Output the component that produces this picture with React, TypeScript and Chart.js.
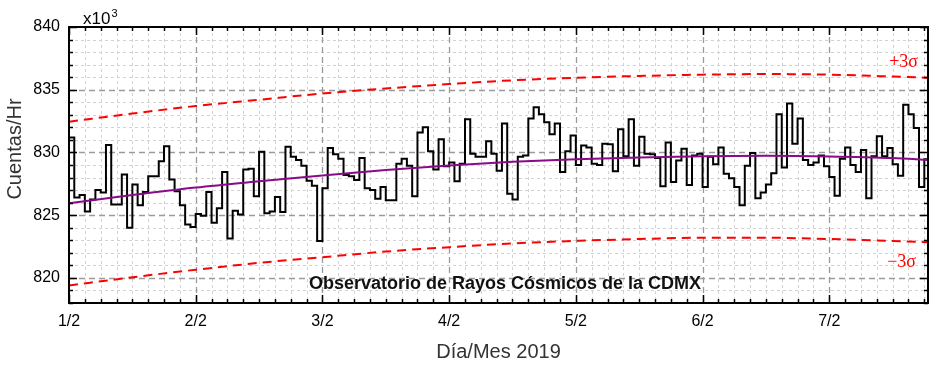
import React, { useEffect, useRef } from "react";
import { Chart, registerables } from "chart.js";

Chart.register(...registerables);

// Day labels placed every 24 hours starting at hour 0
const dayLabels = ["1/2", "2/2", "3/2", "4/2", "5/2", "6/2", "7/2"];

// Hourly counts (x10^3 counts/hr), one value per hour from 1/2 00:00
const hourlyCounts = [
  // 1/2
  831.2, 826.4, 826.6, 825.3, 826.25, 827.0, 826.8, 830.6, 825.85, 825.85, 828.25, 824.0,
  827.45, 825.8, 826.85, 828.1, 828.1, 829.3, 830.5, 827.85, 826.9, 825.8, 824.25, 824.05,
  // 2/2
  825.1, 824.95, 826.85, 824.4, 825.55, 828.45, 823.15, 825.35, 825.05, 828.65, 828.7, 826.5,
  830.05, 825.15, 825.3, 826.45, 825.25, 830.45, 829.65, 829.4, 828.95, 827.75, 827.35, 822.95,
  // 3/2
  827.15, 830.35, 829.85, 829.5, 828.2, 828.1, 827.8, 829.55, 827.15, 827.0, 826.3, 827.25,
  826.2, 826.2, 829.1, 829.5, 828.95, 826.5, 831.6, 832.0, 830.1, 828.65, 831.05, 828.9,
  // 4/2
  829.2, 827.7, 829.1, 832.65, 829.9, 829.65, 829.65, 830.9, 829.9, 828.55, 832.3, 826.7,
  826.25, 829.65, 829.75, 832.7, 833.6, 833.05, 832.4, 831.45, 832.3, 828.45, 830.1, 831.35,
  // 5/2
  829.0, 830.55, 830.4, 829.1, 829.0, 830.7, 830.65, 828.5, 831.85, 829.7, 832.65, 828.95,
  831.25, 829.9, 829.85, 829.55, 827.3, 830.8, 827.65, 829.35, 830.3, 827.4, 829.75, 829.9,
  // 6/2
  827.25, 829.65, 829.05, 830.4, 828.3, 827.95, 827.25, 825.8, 828.95, 829.95, 826.35, 826.8,
  827.45, 828.35, 833.05, 828.8, 833.9, 830.7, 832.7, 829.4, 829.0, 829.2, 829.75, 828.9,
  // 7/2
  828.05, 826.55, 829.5, 830.4, 829.0, 828.45, 830.2, 826.35, 829.7, 831.3, 829.7, 830.35,
  829.05, 828.15, 833.8, 833.05, 831.95, 827.25, 829.45,
];

// Smooth trend and ±3σ bands, read at 12-hour steps
const trendHours = [0, 12, 24, 36, 48, 60, 72, 84, 96, 108, 120, 132, 144, 156, 162.7];
const trendValues = [825.95, 826.6, 827.2, 827.7, 828.17, 828.6, 828.96, 829.25, 829.45, 829.6, 829.7, 829.73, 829.68, 829.55, 829.4];
const upperValues = [832.45, 833.1, 833.7, 834.2, 834.7, 835.1, 835.45, 835.75, 835.95, 836.1, 836.2, 836.25, 836.2, 836.05, 835.95];
const lowerValues = [819.4, 820.05, 820.65, 821.2, 821.65, 822.1, 822.45, 822.75, 822.95, 823.1, 823.2, 823.2, 823.1, 822.95, 822.85];

const X_MIN = 0;
const X_MAX = 162.7;
const Y_MIN = 818;
const Y_MAX = 840;

const SANS = "'Liberation Sans', Arial, sans-serif";
const SERIF = "'Liberation Serif', 'Times New Roman', serif";

const decorPlugin = {
  id: "decor",
  beforeDatasetsDraw(chart: any) {
    const { ctx, chartArea: a, scales } = chart;
    const x = scales.x;
    const y = scales.y;
    ctx.save();
    // minor grid
    ctx.lineWidth = 1;
    ctx.strokeStyle = "#d2d2d2";
    ctx.setLineDash([3, 3]);
    for (let h = 3; h < X_MAX; h += 3) {
      if (h % 24 === 0) continue;
      const px = Math.round(x.getPixelForValue(h)) + 0.5;
      ctx.beginPath();
      ctx.moveTo(px, a.top);
      ctx.lineTo(px, a.bottom);
      ctx.stroke();
    }
    for (let v = Y_MIN + 1; v < Y_MAX; v++) {
      if (v % 5 === 0) continue;
      const py = Math.round(y.getPixelForValue(v)) + 0.5;
      ctx.beginPath();
      ctx.moveTo(a.left, py);
      ctx.lineTo(a.right, py);
      ctx.stroke();
    }
    // major grid
    ctx.lineWidth = 1.3;
    ctx.strokeStyle = "#9a9a9a";
    ctx.setLineDash([6, 4]);
    for (let h = 24; h < X_MAX; h += 24) {
      const px = Math.round(x.getPixelForValue(h)) + 0.5;
      ctx.beginPath();
      ctx.moveTo(px, a.top);
      ctx.lineTo(px, a.bottom);
      ctx.stroke();
    }
    for (let v = 820; v < Y_MAX; v += 5) {
      const py = Math.round(y.getPixelForValue(v)) + 0.5;
      ctx.beginPath();
      ctx.moveTo(a.left, py);
      ctx.lineTo(a.right, py);
      ctx.stroke();
    }
    ctx.restore();
  },
  afterDraw(chart: any) {
    const { ctx, chartArea: a, scales } = chart;
    const x = scales.x;
    const y = scales.y;
    ctx.save();
    ctx.setLineDash([]);
    ctx.strokeStyle = "#000";
    ctx.lineWidth = 1.5;
    // inward ticks
    for (let h = 0; h <= X_MAX; h += 3) {
      const px = Math.round(x.getPixelForValue(h)) + 0.5;
      const len = h % 24 === 0 ? 8 : 4;
      ctx.beginPath();
      ctx.moveTo(px, a.bottom);
      ctx.lineTo(px, a.bottom - len);
      ctx.moveTo(px, a.top);
      ctx.lineTo(px, a.top + len);
      ctx.stroke();
    }
    for (let v = Y_MIN; v <= Y_MAX; v++) {
      const py = Math.round(y.getPixelForValue(v)) + 0.5;
      const len = v % 5 === 0 ? 8 : 4;
      ctx.beginPath();
      ctx.moveTo(a.left, py);
      ctx.lineTo(a.left + len, py);
      ctx.moveTo(a.right, py);
      ctx.lineTo(a.right - len, py);
      ctx.stroke();
    }
    // frame
    ctx.lineWidth = 2;
    ctx.strokeRect(a.left, a.top, a.right - a.left, a.bottom - a.top);

    // multiplier
    ctx.fillStyle = "#000";
    ctx.textBaseline = "alphabetic";
    ctx.textAlign = "left";
    ctx.font = `17px ${SANS}`;
    ctx.fillText("x10", 83, 24);
    const w = ctx.measureText("x10").width;
    ctx.font = `11px ${SANS}`;
    ctx.fillText("3", 83 + w + 1, 17);

    // axis titles
    ctx.fillStyle = "#333";
    ctx.font = `20px ${SANS}`;
    ctx.textAlign = "center";
    ctx.textBaseline = "middle";
    ctx.fillText("Día/Mes 2019", (a.left + a.right) / 2, 352);
    ctx.save();
    ctx.translate(15, 149);
    ctx.rotate(-Math.PI / 2);
    ctx.fillText("Cuentas/Hr", 0, 0);
    ctx.restore();

    // annotation
    ctx.fillStyle = "#111";
    ctx.font = `bold 18px ${SANS}`;
    ctx.fillText("Observatorio de Rayos Cósmicos de la CDMX", 505, 284);

    // sigma labels
    ctx.fillStyle = "#ff0000";
    ctx.font = `18px ${SERIF}`;
    ctx.textAlign = "right";
    ctx.fillText("+3σ", 918, 62);
    ctx.fillText("\u22123σ", 916, 262);
    ctx.restore();
  },
};

export default function App() {
  const ref = useRef<HTMLCanvasElement>(null);
  useEffect(() => {
    const stepData = hourlyCounts.map((v, i) => ({ x: i, y: v }));
    stepData.push({ x: hourlyCounts.length, y: hourlyCounts[hourlyCounts.length - 1] });
    const toPts = (vals: number[]) => vals.map((v, i) => ({ x: trendHours[i], y: v }));
    const chart = new Chart(ref.current as HTMLCanvasElement, {
      type: "line",
      data: {
        datasets: [
          {
            data: toPts(trendValues),
            borderColor: "#8a0a8a",
            borderWidth: 2,
            pointRadius: 0,
            cubicInterpolationMode: "monotone",
            fill: false,
            order: 0,
          },
          {
            data: stepData,
            stepped: "before",
            borderColor: "#000",
            borderWidth: 2,
            pointRadius: 0,
            fill: false,
            order: 1,
          },
          {
            data: toPts(upperValues),
            borderColor: "#ff0000",
            borderWidth: 2,
            borderDash: [9, 6],
            pointRadius: 0,
            cubicInterpolationMode: "monotone",
            fill: false,
            order: 2,
          },
          {
            data: toPts(lowerValues),
            borderColor: "#ff0000",
            borderWidth: 2,
            borderDash: [9, 6],
            pointRadius: 0,
            cubicInterpolationMode: "monotone",
            fill: false,
            order: 2,
          },
        ],
      } as any,
      options: {
        animation: false,
        responsive: true,
        maintainAspectRatio: false,
        layout: { padding: { top: 27, right: 11, left: 0, bottom: 0 } },
        plugins: { legend: { display: false }, tooltip: { enabled: false } },
        scales: {
          x: {
            type: "linear",
            min: X_MIN,
            max: X_MAX,
            grid: { display: false, drawTicks: false },
            border: { display: false },
            afterFit: (s: any) => {
              s.height = 66;
            },
            ticks: {
              stepSize: 24,
              autoSkip: false,
              maxRotation: 0,
              padding: 9,
              color: "#000",
              font: { size: 16, family: SANS },
              callback: (v: any) => {
                const n = Number(v);
                if (n % 24 !== 0) return null;
                return dayLabels[n / 24] ?? null;
              },
            },
          },
          y: {
            min: Y_MIN,
            max: Y_MAX,
            grid: { display: false, drawTicks: false },
            border: { display: false },
            afterFit: (s: any) => {
              s.width = 69;
            },
            ticks: {
              stepSize: 1,
              autoSkip: false,
              padding: 9,
              color: "#000",
              font: { size: 16, family: SANS },
              callback: (v: any) => {
                const n = Number(v);
                return n % 5 === 0 ? String(n) : null;
              },
            },
          },
        },
      } as any,
      plugins: [decorPlugin],
    });
    return () => chart.destroy();
  }, []);
  return (
    <div style={{ position: "fixed", left: 0, top: 0, width: 939, height: 369, background: "#fff" }}>
      <canvas ref={ref} />
    </div>
  );
}
